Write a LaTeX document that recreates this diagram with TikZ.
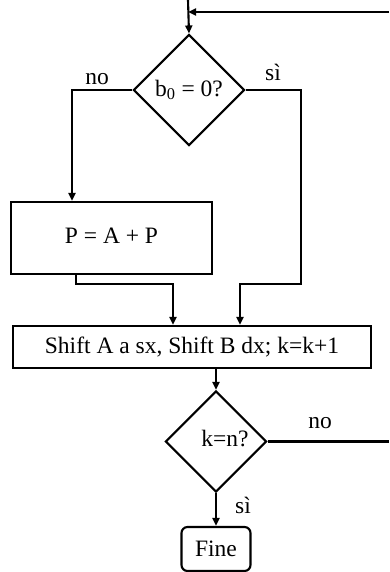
\documentclass[tikz,border=0pt]{standalone}
\usepackage{fontspec}
\setmainfont{Liberation Serif}
\usetikzlibrary{shapes.geometric,arrows.meta}

\tikzset{
  decision/.style={diamond, draw=black, inner sep=0pt, minimum width=#1, minimum height=#1},
  process/.style={rectangle, draw=black, inner sep=0pt},
  flow/.style={-{Triangle[length=8pt,width=7pt]}}
}

\begin{document}
\begin{tikzpicture}[x=1pt, y=-1pt, line width=2.1pt, font=\fontsize{23.5}{28}\selectfont]
\useasboundingbox (0,0) rectangle (389,572);

% blocchi
\node[decision=111pt] (test0) at (189,90) {b\textsubscript{0} = 0?};
\node[process, minimum width=201pt, minimum height=72pt] (somma) at (111.5,238) {\raisebox{5pt}{P = A + P}};
\node[process, minimum width=358pt, minimum height=42pt] (shift) at (192,347) {Shift A a sx, Shift B dx; k=k+1};
\node[decision=101pt] (testk) at (216,441.5) {\hspace*{18pt}\raisebox{6pt}{k=n?}};
\node[rectangle, rounded corners=6pt, draw=black, minimum width=69pt, minimum height=44pt, inner sep=0pt] (fine) at (216,549) {Fine};

% etichette
\node (no0) at (97,79) {no};
\node (si0) at (273,72) {sì};
\node (nok) at (320,423) {no};
\node (sik) at (243,505) {sì};

% punti di appoggio
\coordinate (ingresso) at (188,0);
\coordinate (ritorno) at (389,12);
\coordinate (nodo) at (188,12);
\coordinate (colno) at (72,0);
\coordinate (colsi) at (301,0);
\coordinate (colp) at (76,0);
\coordinate (mergeL) at (173,0);
\coordinate (mergeR) at (240,0);
\coordinate (mergey) at (0,284);
\coordinate (uscita) at (389,0);

% collegamenti
\draw[flow] (ingresso) -- (test0.north);
\draw[flow] (ritorno) -- (nodo);
\draw[flow] (test0.west) -| (colno |- somma.north);
\draw[flow] (test0.east) -| (colsi |- mergey) -| (mergeR |- shift.north);
\draw[flow] (colp |- somma.south) |- (mergeL |- mergey) -- (mergeL |- shift.north);
\draw[flow] (shift.south -| testk.north) -- (testk.north);
\draw (testk.east) -- (uscita |- testk.east);
\draw[flow] (testk.south) -- (fine.north);
\end{tikzpicture}
\end{document}
